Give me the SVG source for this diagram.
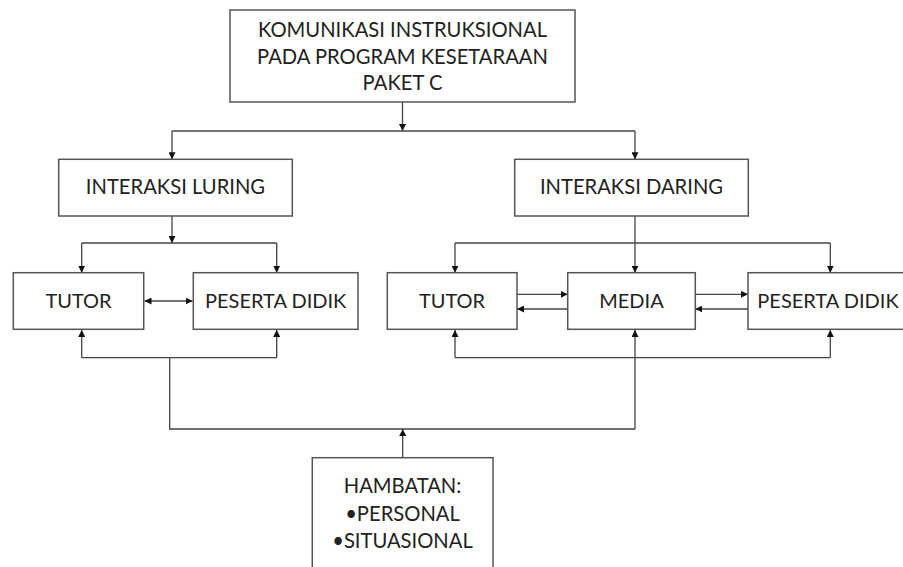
<svg xmlns="http://www.w3.org/2000/svg" width="903" height="567" viewBox="0 0 903 567">
<defs>
<marker id="ah" viewBox="0 0 10 10" refX="10" refY="5" markerWidth="7" markerHeight="7" markerUnits="userSpaceOnUse" orient="auto-start-reverse">
<path d="M0,0 L10,5 L0,10 z" fill="#111"/>
</marker>
<style>
.box{fill:#fff;stroke:#555;stroke-width:1.5}
.t{font-family:Lato,"Liberation Sans",sans-serif;fill:#222;text-anchor:middle}
.s18{font-size:20.2px}
.s20{font-size:20px}
.c{fill:none;stroke:#444;stroke-width:1.3}
.a{marker-end:url(#ah)}
.b{marker-start:url(#ah);marker-end:url(#ah)}
</style>
</defs>
<rect width="903" height="567" fill="#fff"/>
<g id="connectors">
<path class="c a" d="M402.5,102 V131"/>
<path class="c" d="M172,131 H635"/>
<path class="c a" d="M172,131 V159.3"/>
<path class="c a" d="M635,131 V159.3"/>
<path class="c a" d="M172,216 V243"/>
<path class="c" d="M81.7,243 H276.7"/>
<path class="c a" d="M81.7,243 V272.7"/>
<path class="c a" d="M276.7,243 V272.7"/>
<path class="c b" d="M144.5,301 H192.5"/>
<path class="c" d="M81.7,357.7 H276.7"/>
<path class="c a" d="M81.7,357.7 V330"/>
<path class="c a" d="M276.7,357.7 V330"/>
<path class="c" d="M169.7,357.7 V429 H635"/>
<path class="c a" d="M635,429 V330"/>
<path class="c a" d="M402.7,457.7 V429"/>
<path class="c a" d="M635,216 V272.7"/>
<path class="c" d="M455,243 H830.3"/>
<path class="c a" d="M455,243 V272.7"/>
<path class="c a" d="M830.3,243 V272.7"/>
<path class="c" d="M455,357.7 H830.3"/>
<path class="c a" d="M455,357.7 V330"/>
<path class="c a" d="M830.3,357.7 V330"/>
<path class="c a" d="M517,294.3 H567.7"/>
<path class="c a" d="M567.7,309 H517"/>
<path class="c a" d="M695.3,294.3 H748"/>
<path class="c a" d="M748,309 H695.3"/>
</g>
<g id="top">
<rect class="box" x="230" y="10" width="345" height="92"/>
<text class="t s18" x="402.5" y="37">KOMUNIKASI INSTRUKSIONAL</text>
<text class="t s18" x="402.5" y="63.5">PADA PROGRAM KESETARAAN</text>
<text class="t s18" x="402.5" y="90">PAKET C</text>
</g>
<g id="luring">
<rect class="box" x="58.7" y="159.3" width="233.6" height="56.7"/>
<text class="t s18" x="175.5" y="194">INTERAKSI LURING</text>
</g>
<g id="daring">
<rect class="box" x="514.7" y="159.3" width="233.6" height="56.7"/>
<text class="t s18" x="631.5" y="194">INTERAKSI DARING</text>
</g>
<g id="tutor1">
<rect class="box" x="13.3" y="272.7" width="130.4" height="56.6"/>
<text class="t s20" x="78.5" y="308.3">TUTOR</text>
</g>
<g id="peserta1">
<rect class="box" x="193.3" y="272.7" width="164.7" height="56.6"/>
<text class="t s20" x="275.7" y="308.3">PESERTA DIDIK</text>
</g>
<g id="tutor2">
<rect class="box" x="387.3" y="272.7" width="129.7" height="56.6"/>
<text class="t s20" x="452" y="308.3">TUTOR</text>
</g>
<g id="media">
<rect class="box" x="567.7" y="272.7" width="127.6" height="56.6"/>
<text class="t s20" x="631.5" y="308.3">MEDIA</text>
</g>
<g id="peserta2">
<rect class="box" x="748" y="272.7" width="160" height="56.6"/>
<text class="t s20" x="828" y="308.3">PESERTA DIDIK</text>
</g>
<g id="hambatan">
<rect class="box" x="312.3" y="457.7" width="180.7" height="120"/>
<text class="t s18" x="402.5" y="493.3">HAMBATAN:</text>
<text class="t s18" x="402.5" y="520.7">•PERSONAL</text>
<text class="t s18" x="402.5" y="548.3">•SITUASIONAL</text>
</g>
</svg>
